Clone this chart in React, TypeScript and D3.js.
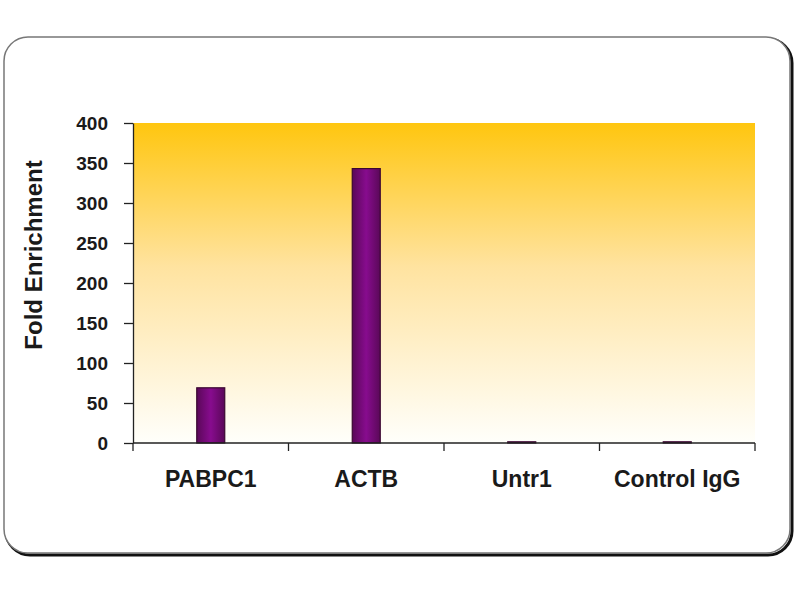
import { useEffect, useRef } from 'react'
import * as d3 from 'd3'

// values
const categories = ['PABPC1', 'ACTB', 'Untr1', 'Control IgG']
const enrichment = [69, 343, 1.5, 1.5]
const yTicks = [0, 50, 100, 150, 200, 250, 300, 350, 400]

export default function App() {
  const ref = useRef<SVGSVGElement | null>(null)

  useEffect(() => {
    const svg = d3.select(ref.current)
    svg.selectAll('*').remove()

    const margin = { top: 123, right: 45, bottom: 157, left: 133 }
    const width = 800 - margin.left - margin.right
    const height = 600 - margin.top - margin.bottom

    const defs = svg.append('defs')
    const bg = defs
      .append('linearGradient')
      .attr('id', 'bg')
      .attr('x1', 0)
      .attr('y1', 0)
      .attr('x2', 0)
      .attr('y2', 1)
    bg.append('stop').attr('offset', '0%').attr('stop-color', '#FFC60F')
    bg.append('stop').attr('offset', '45%').attr('stop-color', '#FFE3A0')
    bg.append('stop').attr('offset', '100%').attr('stop-color', '#FFFFFB')

    const barGrad = defs
      .append('linearGradient')
      .attr('id', 'bar')
      .attr('x1', 0)
      .attr('y1', 0)
      .attr('x2', 1)
      .attr('y2', 0)
    barGrad.append('stop').attr('offset', '0%').attr('stop-color', '#5A0858')
    barGrad.append('stop').attr('offset', '50%').attr('stop-color', '#870C8E')
    barGrad.append('stop').attr('offset', '100%').attr('stop-color', '#5A0858')

    // * frame with shadow on the right / bottom
    svg
      .append('rect')
      .attr('x', 6)
      .attr('y', 39)
      .attr('width', 786)
      .attr('height', 516)
      .attr('rx', 24)
      .attr('fill', 'none')
      .attr('stroke', '#111')
      .attr('stroke-width', 3)
    svg
      .append('rect')
      .attr('x', 4)
      .attr('y', 37)
      .attr('width', 786)
      .attr('height', 516)
      .attr('rx', 24)
      .attr('fill', '#fff')
      .attr('stroke', '#777')
      .attr('stroke-width', 1.5)

    const chart = svg
      .append('g')
      .attr('transform', `translate(${margin.left},${margin.top})`)

    const xScale = d3.scaleBand().domain(categories).range([0, width])
    const yScale = d3.scaleLinear().domain([0, 400]).range([height, 0])

    chart
      .append('rect')
      .attr('x', 0)
      .attr('y', 0)
      .attr('width', width)
      .attr('height', height)
      .attr('fill', 'url(#bg)')

    // * bars
    const barW = xScale.bandwidth() * 0.18
    chart
      .selectAll('.bar')
      .data(categories)
      .enter()
      .append('rect')
      .attr('class', 'bar')
      .attr('x', (d) => xScale(d)! + xScale.bandwidth() / 2 - barW / 2)
      .attr('y', (d, i) => yScale(enrichment[i]))
      .attr('width', barW)
      .attr('height', (d, i) => height - yScale(enrichment[i]))
      .attr('fill', 'url(#bar)')
      .attr('stroke', '#3A0630')
      .attr('stroke-width', 1.2)

    // * Y axis
    const yAxis = chart
      .append('g')
      .call(d3.axisLeft(yScale).tickValues(yTicks).tickSize(9).tickPadding(16).tickSizeOuter(0))
    yAxis.select('.domain').attr('stroke', '#222').attr('stroke-width', 1.3)
    yAxis.selectAll('.tick line').attr('stroke', '#222').attr('stroke-width', 1.3)
    yAxis
      .selectAll('.tick text')
      .attr('font-family', '"Liberation Sans", Arial, sans-serif')
      .attr('font-size', 19)
      .attr('font-weight', 'bold')
      .attr('fill', '#1a1a1a')

    // * X axis with ticks between categories
    const xAxis = chart.append('g').attr('transform', `translate(0,${height})`)
    xAxis
      .append('line')
      .attr('x1', 0)
      .attr('x2', width)
      .attr('stroke', '#222')
      .attr('stroke-width', 1.3)
    const bounds = categories.map((d) => xScale(d)!).concat([width])
    xAxis
      .selectAll('.xtick')
      .data(bounds)
      .enter()
      .append('line')
      .attr('x1', (d) => d)
      .attr('x2', (d) => d)
      .attr('y1', 0)
      .attr('y2', 8)
      .attr('stroke', '#222')
      .attr('stroke-width', 1.3)
    xAxis
      .selectAll('.xlabel')
      .data(categories)
      .enter()
      .append('text')
      .attr('x', (d) => xScale(d)! + xScale.bandwidth() / 2)
      .attr('y', 44)
      .attr('text-anchor', 'middle')
      .attr('font-family', '"Liberation Sans", Arial, sans-serif')
      .attr('font-size', 23)
      .attr('font-weight', 'bold')
      .attr('fill', '#1a1a1a')
      .text((d) => d)

    // * Y title
    svg
      .append('text')
      .attr('transform', 'translate(42,255) rotate(-90)')
      .attr('text-anchor', 'middle')
      .attr('font-family', '"Liberation Sans", Arial, sans-serif')
      .attr('font-size', 24)
      .attr('font-weight', 'bold')
      .attr('fill', '#1a1a1a')
      .text('Fold Enrichment')
  }, [])

  return (
    <svg
      ref={ref}
      width={800}
      height={600}
      style={{ position: 'absolute', left: 0, top: 0, background: '#fff' }}
    />
  )
}
